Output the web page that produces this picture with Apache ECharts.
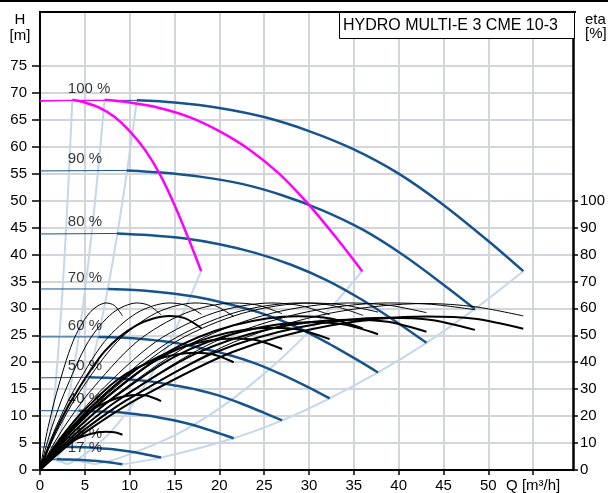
<!DOCTYPE html>
<html><head><meta charset="utf-8">
<script src="https://cdn.jsdelivr.net/npm/echarts@6/dist/echarts.min.js"></script>
<style>html,body{margin:0;padding:0;background:#fff}#c{width:608px;height:493px}</style>
</head><body><div id="c"></div>
<script>
// ---------- tick values ----------
const qTicks = [0,5,10,15,20,25,30,35,40,45,50,55];
const hTicks = [0,5,10,15,20,25,30,35,40,45,50,55,60,65,70,75];
const etaTicks = [0,10,20,30,40,50,60,70,80,90,100];
const speedLabels = ['100 %','90 %','80 %','70 %','60 %','50 %','40 %','25 %','17 %'];
const titleText = 'HYDRO MULTI-E 3 CME 10-3';

// ---------- Q-H curves, 3 pumps (thick part) ----------
const qh100 = [[10.8,68.6],[15,68.2],[20,67.2],[25,65.5],[30,62.9],[35,59.5],[40,55.0],[45,49.2],[50,42.5],[53.9,36.9]];
const qh90  = [[9.7,55.6],[13.5,55.2],[18,54.4],[22.5,53.1],[27,51.0],[31.5,48.2],[36,44.6],[40.5,39.9],[45,34.4],[48.5,29.9]];
const qh80  = [[8.6,43.9],[12,43.6],[16,43.0],[20,41.9],[24,40.3],[28,38.1],[32,35.2],[36,31.5],[40,27.2],[43.1,23.6]];
const qh70  = [[7.6,33.6],[10.5,33.4],[14,32.9],[17.5,32.1],[21,30.8],[24.5,29.2],[28,27.0],[31.5,24.1],[35,20.8],[37.7,18.1]];
const qh60  = [[6.5,24.7],[9,24.6],[12,24.2],[15,23.6],[18,22.6],[21,21.4],[24,19.8],[27,17.7],[30,15.3],[32.3,13.3]];
const qh50  = [[5.4,17.2],[7.5,17.1],[10,16.8],[12.5,16.4],[15,15.7],[17.5,14.9],[20,13.8],[22.5,12.3],[25,10.6],[27,9.2]];
const qh40  = [[4.3,11.0],[6,10.9],[8,10.8],[10,10.5],[12,10.1],[14,9.5],[16,8.8],[18,7.9],[20,6.8],[21.6,5.9]];
const qh25  = [[2.7,4.3],[3.75,4.26],[5,4.2],[6.25,4.09],[7.5,3.93],[8.75,3.72],[10,3.44],[11.25,3.08],[12.5,2.66],[13.5,2.31]];
const qh17  = [[1.84,1.98],[2.55,1.97],[3.4,1.94],[4.25,1.89],[5.1,1.82],[5.95,1.72],[6.8,1.59],[7.65,1.42],[8.5,1.23],[9.2,1.07]];
// thin start parts
const qs100 = [[0,68.5],[5,68.6],[10.8,68.6]];
const qs90  = [[0,55.5],[9.7,55.6]];
const qs80  = [[0,43.8],[8.6,43.9]];
const qs70  = [[0,33.6],[7.6,33.6]];
const qs60  = [[0,24.7],[6.5,24.7]];
const qs50  = [[0,17.1],[5.4,17.2]];
const qs40  = [[0,11.0],[4.3,11.0]];
const qs25  = [[0,4.28],[2.7,4.3]];
const qs17  = [[0,1.98],[1.84,1.98]];

// ---------- 1 and 2 pumps at 100 % (magenta) ----------
const qhOne  = [[3.6,68.7],[5,68.2],[6.67,67.2],[8.33,65.5],[10,62.9],[11.67,59.5],[13.33,55.0],[15,49.2],[16.67,42.5],[17.97,36.9]];
const qsOne  = [[0,68.5],[1.67,68.6],[3.6,68.6]];
const qhTwo  = [[7.2,68.7],[10,68.2],[13.33,67.2],[16.67,65.5],[20,62.9],[23.33,59.5],[26.67,55.0],[30,49.2],[33.33,42.5],[35.93,36.9]];
const qsTwo  = [[0,68.5],[3.33,68.6],[7.2,68.6]];

// ---------- light operating-range lines ----------
const minOne   = [[3.6,68.6],[3.24,55.6],[2.88,43.9],[2.52,33.6],[2.16,24.7],[1.8,17.2],[1.44,11.0],[0.9,4.3],[0.61,2.0]];
const minTwo   = [[7.2,68.6],[6.48,55.6],[5.76,43.9],[5.04,33.6],[4.32,24.7],[3.6,17.2],[2.88,11.0],[1.8,4.3],[1.22,2.0]];
const minThree = [[10.8,68.6],[9.72,55.6],[8.64,43.9],[7.56,33.6],[6.48,24.7],[5.4,17.2],[4.32,11.0],[2.7,4.3],[1.84,2.0]];
const maxOne   = [[17.97,36.9],[16.17,29.9],[14.37,23.6],[12.58,18.1],[10.78,13.3],[8.98,9.2],[7.19,5.9],[4.49,2.3],[3.05,1.07]];
const maxTwo   = [[35.93,36.9],[32.34,29.9],[28.75,23.6],[25.15,18.1],[21.56,13.3],[17.97,9.2],[14.37,5.9],[8.98,2.3],[6.11,1.07]];
const maxThree = [[53.9,36.9],[48.5,29.9],[43.1,23.6],[37.7,18.1],[32.3,13.3],[27,9.2],[21.6,5.9],[13.5,2.3],[9.2,1.07]];
const lowOne   = [[0.61,1.98],[1.42,1.89],[2.27,1.59],[3.05,1.07]];
const lowTwo   = [[1.22,1.98],[2.83,1.89],[4.53,1.59],[6.11,1.07]];

// ---------- efficiency curves (eta %, right axis) ----------
const hyd17  = [[0,0],[0.46,8.7],[0.92,16.1],[1.84,28.5],[3.68,47.7],[5.52,58.3],[7.36,62],[8.28,61.1],[9.2,57.2]];
const hyd25  = [[0,0],[0.68,8.7],[1.35,16.1],[2.7,28.5],[5.4,47.7],[8.1,58.3],[10.8,62],[12.15,61.1],[13.5,57.6]];
const hydOne = [[0,0],[0.9,8.7],[1.8,16.1],[3.6,28.5],[7.2,47.7],[10.8,58.3],[14.4,62],[16.2,61.2],[18,57.8]];
const hyd40  = [[0,0],[1.08,8.7],[2.16,16.1],[4.32,28.5],[8.64,47.7],[12.96,58.3],[17.28,62],[19.44,61.1],[21.6,57.0]];
const hyd50  = [[0,0],[1.35,8.6],[2.7,16.0],[5.4,28.4],[10.8,47.6],[16.2,58.2],[21.6,62],[24.3,61.2],[27,58.0]];
const hyd60  = [[0,0],[1.62,8.6],[3.23,16.0],[6.46,28.4],[12.92,47.6],[19.38,58.3],[25.84,62],[29.07,61.0],[32.3,57.6]];
const hydTwo = [[0,0],[1.8,8.6],[3.6,16.0],[7.2,28.4],[14.4,47.6],[21.6,58.3],[28.8,62],[32.4,61.2],[36,57.4]];
const hyd70  = [[0,0],[1.89,8.5],[3.77,15.9],[7.54,28.3],[15.08,47.5],[22.62,58.2],[30.16,62],[33.93,61.2],[37.7,58.6]];
const hyd80  = [[0,0],[2.16,8.5],[4.31,15.9],[8.62,28.3],[17.24,47.5],[25.86,58.2],[34.48,62],[38.79,61.2],[43.1,58.4]];
const hyd90  = [[0,0],[2.43,8.5],[4.85,15.9],[9.7,28.3],[19.4,47.5],[29.1,58.2],[38.8,62],[43.65,61.5],[48.5,59.5]];
const hyd100 = [[0,0],[2.7,8.4],[5.39,15.8],[10.78,28.2],[21.56,47.4],[32.34,58.2],[43.12,61.8],[48.51,60.6],[53.9,57.2]];

const tot17  = [[0,0],[0.46,2.0],[0.92,3.7],[1.84,6.5],[3.68,10.9],[5.52,13.3],[7.36,14.2],[8.28,14.0],[9.2,13.1]];
const tot25  = [[0,0],[0.68,3.9],[1.35,7.2],[2.7,12.8],[5.4,21.4],[8.1,26.1],[10.8,27.8],[12.15,27.4],[13.5,25.6]];
const tot40  = [[0,0],[1.08,6.1],[2.16,11.3],[4.32,20.0],[8.64,33.5],[12.96,40.9],[17.28,43.5],[19.44,42.8],[21.6,40.0]];
const tot50  = [[0,0],[1.35,6.8],[2.7,12.7],[5.4,22.4],[10.8,37.6],[16.2,45.9],[21.6,48.8],[24.3,48.1],[27,44.9]];
const tot60  = [[0,0],[1.62,7.4],[3.23,13.7],[6.46,24.3],[12.92,40.7],[19.38,49.6],[25.84,52.8],[29.07,52.0],[32.3,48.6]];
const tot70  = [[0,0],[1.89,7.7],[3.77,14.2],[7.54,25.2],[15.08,42.2],[22.62,51.5],[30.16,54.8],[33.93,54.0],[37.7,50.4]];
const tot80  = [[0,0],[2.16,7.8],[4.31,14.5],[8.62,25.7],[17.24,43.0],[25.86,52.5],[34.48,55.8],[38.79,55.0],[43.1,51.3]];
const tot90  = [[0,0],[2.43,7.9],[4.85,14.7],[9.7,26.0],[19.4,43.5],[29.1,53.1],[38.8,56.5],[43.65,55.7],[48.5,52.0]];
const tot100 = [[0,0],[2.7,8.0],[5.39,14.8],[10.78,26.2],[21.56,43.9],[32.34,53.6],[43.12,57.0],[48.51,56.1],[53.9,52.4]];
const totOne = [[0,0],[0.9,8.0],[1.8,14.9],[3.6,26.3],[7.2,44.0],[10.8,53.8],[14.4,57.2],[16.2,56.3],[18,52.6]];
const totTwo = [[0,0],[1.8,8.0],[3.6,14.8],[7.2,26.3],[14.4,44.0],[21.6,53.7],[28.8,57.1],[32.4,56.2],[36,52.5]];

// ---------- layout / style config ----------
const FONT = '"Liberation Sans", Arial, sans-serif';
const BLUE = '#17548e', MAG = '#ff00ff', LIGHT = '#c6d7e8', GRID = '#d2d5d9', TXT = '#000';
const labelQ = 3.1;
const labelH = [70.7, 57.7, 46.0, 35.7, 26.8, 19.4, 13.2, 6.8, 4.1];

function L(data, color, width, yi, z, smooth){
  return {type:'line', data:data, yAxisIndex:yi, symbol:'none', showSymbol:false,
    smooth:(smooth===undefined?0.3:smooth), lineStyle:{color:color, width:width},
    z:z, silent:true, animation:false};
}

const series = [];
[minOne,minTwo,minThree,maxOne,maxTwo,maxThree,lowOne,lowTwo].forEach(d=>series.push(L(d,LIGHT,2,0,2)));
[qs100,qs90,qs80,qs70,qs60,qs50,qs40,qs25,qs17].forEach(d=>series.push(L(d,BLUE,1,0,3,false)));
[qsOne,qsTwo].forEach(d=>series.push(L(d,MAG,1,0,3,false)));
[qh100,qh90,qh80,qh70,qh60,qh50,qh40,qh25,qh17].forEach(d=>series.push(L(d,BLUE,2.5,0,4)));
[qhOne,qhTwo].forEach(d=>series.push(L(d,MAG,2.5,0,5)));
series.push({type:'scatter', yAxisIndex:0, symbolSize:0, silent:true, z:6,
  data: speedLabels.map((t,i)=>({value:[labelQ,labelH[i]], name:t})),
  label:{show:true, position:'right', distance:0, formatter:p=>p.name,
    fontSize:15, fontFamily:FONT, color:TXT}});
[hyd17,hyd25,hydOne,hyd40,hyd50,hyd60,hydTwo,hyd70,hyd80,hyd90,hyd100].forEach(d=>series.push(L(d,'#000',1,1,7)));
[tot17,tot25,tot40,tot50,tot60,tot70,tot80,tot90,tot100,totOne,totTwo].forEach(d=>series.push(L(d,'#000',2,1,8)));

const axisTxt = {fontSize:15, fontFamily:FONT, color:TXT};
const chart = echarts.init(document.getElementById('c'), null, {renderer:'canvas'});
chart.setOption({
  animation:false,
  backgroundColor:'#fff',
  grid:{left:40, right:33, top:12, bottom:22.5, show:false},
  xAxis:{type:'value', min:0, max:59.44, interval:5,
    axisLine:{show:true, onZero:false, lineStyle:{color:'#000', width:2}},
    axisTick:{show:true, length:5, lineStyle:{color:'#000', width:1.5}, customValues:qTicks},
    axisLabel:Object.assign({customValues:qTicks, margin:8,
      formatter:v=> (v===55 ? 'Q [m³/h]' : String(v))}, axisTxt),
    splitLine:{show:true, lineStyle:{color:GRID, width:2}}},
  yAxis:[
    {type:'value', min:0, max:85, interval:5, position:'left',
     axisLine:{show:true, onZero:false, lineStyle:{color:'#000', width:2}},
     axisTick:{show:true, length:8, lineStyle:{color:'#000', width:1.5}, customValues:hTicks},
     axisLabel:Object.assign({customValues:hTicks, margin:13}, axisTxt),
     splitLine:{show:true, lineStyle:{color:GRID, width:2}}},
    {type:'value', min:0, max:170, interval:10, position:'right',
     axisLine:{show:true, onZero:false, lineStyle:{color:'#000', width:2.5}},
     axisTick:{show:true, length:5, lineStyle:{color:'#000', width:1.5}, customValues:etaTicks},
     axisLabel:Object.assign({customValues:etaTicks, margin:7}, axisTxt),
     splitLine:{show:false}}
  ],
  graphic:[
    {type:'rect', z:100, shape:{x:0,y:0,width:608,height:2}, style:{fill:'#000'}},
    {type:'line', z:100, shape:{x1:39,y1:12,x2:576,y2:12}, style:{stroke:'#000', lineWidth:2}},
    {type:'rect', z:100, shape:{x:339.5,y:12.5,width:235,height:26}, style:{fill:'#fff', stroke:'#000', lineWidth:1}},
    {type:'text', z:101, x:343, y:25.5, style:{text:titleText, fontSize:16, fontFamily:FONT, fill:TXT, align:'left', verticalAlign:'middle'}},
    {type:'text', z:101, x:20, y:20, style:{text:'H', fontSize:15, fontFamily:FONT, fill:TXT, align:'center', verticalAlign:'middle'}},
    {type:'text', z:101, x:20, y:36, style:{text:'[m]', fontSize:15, fontFamily:FONT, fill:TXT, align:'center', verticalAlign:'middle'}},
    {type:'text', z:101, x:585, y:20, style:{text:'eta', fontSize:15, fontFamily:FONT, fill:TXT, align:'left', verticalAlign:'middle'}},
    {type:'text', z:101, x:585, y:34, style:{text:'[%]', fontSize:15, fontFamily:FONT, fill:TXT, align:'left', verticalAlign:'middle'}}
  ],
  series:series
});
</script></body></html>
